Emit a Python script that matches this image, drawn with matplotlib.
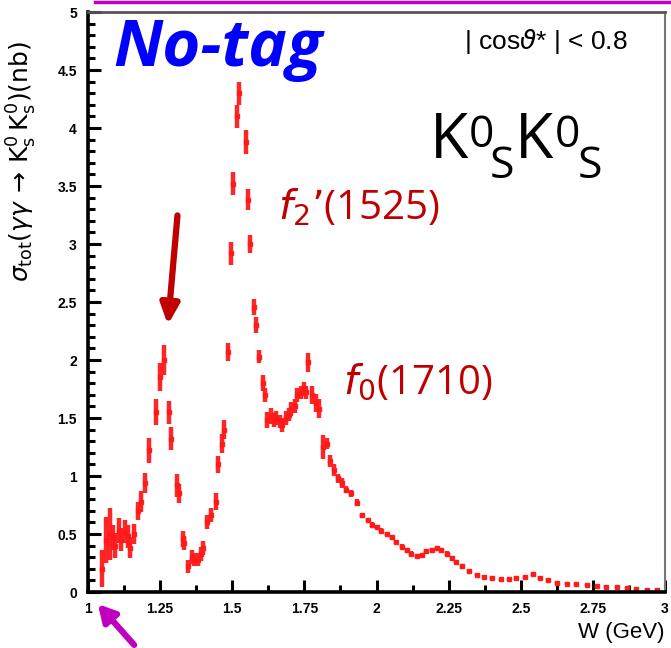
import matplotlib
matplotlib.use('Agg')
import matplotlib.pyplot as plt
from matplotlib.lines import Line2D
from matplotlib.ticker import MultipleLocator

# measured cross section, gamma gamma -> KsKs (nb), no-tag
w_gev = [1.050, 1.061, 1.075, 1.085, 1.095, 1.106, 1.116, 1.127, 1.137, 1.147,
         1.161, 1.172, 1.182, 1.199, 1.213, 1.234, 1.251, 1.262, 1.282, 1.289,
         1.307, 1.317, 1.328, 1.334, 1.348, 1.359, 1.369, 1.380, 1.390, 1.400,
         1.414, 1.425, 1.442, 1.452, 1.463, 1.473, 1.484, 1.494, 1.501, 1.515,
         1.525, 1.546, 1.553, 1.563, 1.574, 1.584, 1.591, 1.605, 1.615, 1.622,
         1.633, 1.643, 1.653, 1.664, 1.674, 1.685, 1.695, 1.705, 1.716, 1.726,
         1.737, 1.747, 1.757, 1.764, 1.778, 1.789, 1.802, 1.816, 1.827, 1.840,
         1.854, 1.868, 1.882, 1.896, 1.910, 1.931, 1.951, 1.969, 1.983, 2.000,
         2.017, 2.035, 2.052, 2.069, 2.087, 2.104, 2.121, 2.139, 2.156, 2.173,
         2.191, 2.208, 2.225, 2.243, 2.260, 2.277, 2.298, 2.322, 2.347, 2.374,
         2.402, 2.430, 2.458, 2.485, 2.513, 2.541, 2.568, 2.596, 2.624, 2.659,
         2.693, 2.728, 2.763, 2.797, 2.832, 2.867, 2.901, 2.936, 2.971]
sigma = [0.20, 0.45, 0.50, 0.47, 0.40, 0.53, 0.45, 0.52, 0.48, 0.38,
         0.50, 0.70, 0.78, 0.94, 1.22, 1.55, 1.85, 2.00, 1.55, 1.32,
         0.92, 0.85, 0.46, 0.42, 0.22, 0.30, 0.28, 0.28, 0.33, 0.38,
         0.60, 0.66, 0.78, 1.10, 1.28, 1.40, 2.07, 2.92, 3.52, 4.10,
         4.30, 3.88, 3.38, 3.00, 2.46, 2.30, 2.03, 1.80, 1.70, 1.48,
         1.52, 1.48, 1.50, 1.47, 1.44, 1.50, 1.53, 1.58, 1.60, 1.70,
         1.72, 1.75, 1.72, 1.98, 1.70, 1.63, 1.58, 1.25, 1.28, 1.13,
         1.05, 0.98, 0.94, 0.88, 0.85, 0.77, 0.66, 0.62, 0.58, 0.56,
         0.53, 0.50, 0.47, 0.43, 0.39, 0.36, 0.33, 0.31, 0.32, 0.35,
         0.36, 0.38, 0.36, 0.33, 0.29, 0.26, 0.22, 0.18, 0.15, 0.13,
         0.12, 0.11, 0.11, 0.12, 0.13, 0.155, 0.12, 0.10, 0.08, 0.07,
         0.065, 0.06, 0.05, 0.045, 0.04, 0.035, 0.025, 0.02, 0.02]
sigma_err = [0.16, 0.20, 0.22, 0.11, 0.11, 0.11, 0.10, 0.10, 0.10, 0.09,
             0.09, 0.08, 0.09, 0.09, 0.11, 0.11, 0.12, 0.13, 0.10, 0.10,
             0.10, 0.08, 0.07, 0.06, 0.06, 0.06, 0.06, 0.06, 0.06, 0.06,
             0.06, 0.06, 0.07, 0.07, 0.08, 0.08, 0.08, 0.10, 0.10, 0.10,
             0.10, 0.10, 0.09, 0.08, 0.07, 0.07, 0.06, 0.07, 0.06, 0.07,
             0.07, 0.06, 0.06, 0.06, 0.06, 0.06, 0.06, 0.06, 0.06, 0.06,
             0.06, 0.06, 0.06, 0.08, 0.08, 0.08, 0.08, 0.10, 0.05, 0.05,
             0.05, 0.04, 0.04, 0.03, 0.03, 0.03, 0.02, 0.02, 0.02, 0.02,
             0.02, 0.02, 0.02, 0.02, 0.02, 0.02, 0.02, 0.02, 0.02, 0.02,
             0.02, 0.02, 0.02, 0.02, 0.02, 0.02, 0.02, 0.015, 0.015, 0.015,
             0.015, 0.015, 0.015, 0.015, 0.015, 0.015, 0.015, 0.015, 0.012, 0.012,
             0.012, 0.012, 0.012, 0.012, 0.012, 0.012, 0.012, 0.012, 0.012]

xticks = [1, 1.25, 1.5, 1.75, 2, 2.25, 2.5, 2.75, 3]
xtick_labels = ['1', '1.25', '1.5', '1.75', '2', '2.25', '2.5', '2.75', '3']
yticks = [0, 0.5, 1, 1.5, 2, 2.5, 3, 3.5, 4, 4.5, 5]
ytick_labels = ['0', '0.5', '1', '1.5', '2', '2.5', '3', '3.5', '4', '4.5', '5']

W, H = 671, 648
fig = plt.figure(figsize=(W / 100, H / 100), dpi=100)
ax = fig.add_axes([88 / W, 56 / H, (665 - 88) / W, (592 - 12) / H])


def px(x, y):
    # figure fraction from pixel position measured from top-left
    return x / W, 1 - y / H


ax.errorbar(w_gev, sigma, yerr=sigma_err, fmt='s', color='#ff1a1a',
            markersize=3.5, elinewidth=3.2, capsize=0, alpha=0.95)

ax.set_xlim(1, 3)
ax.set_ylim(0, 5)
ax.set_xticks(xticks)
ax.set_xticklabels(xtick_labels)
ax.set_yticks(yticks)
ax.set_yticklabels(ytick_labels)
ax.xaxis.set_minor_locator(MultipleLocator(0.125))
ax.yaxis.set_minor_locator(MultipleLocator(0.1))
ax.tick_params(which='both', direction='in', width=2.2, top=False, right=False,
               labelsize=10)
ax.tick_params(which='major', length=9)
ax.tick_params(which='minor', length=5)
ax.tick_params(axis='y', pad=8)
ax.tick_params(axis='x', pad=7)
for lab in ax.get_xticklabels() + ax.get_yticklabels():
    lab.set_fontweight('bold')
    lab.set_family('Liberation Sans')

ax.spines['left'].set_linewidth(2.6)
ax.spines['bottom'].set_linewidth(2.6)
ax.spines['top'].set_linewidth(2.0)
ax.spines['top'].set_color('#555555')
ax.spines['right'].set_linewidth(1.5)
ax.spines['right'].set_color('#777777')

ax.set_ylabel(r'$\sigma_{\rm tot}(\gamma\gamma\,\rightarrow\,\mathrm{K^0_s\,K^0_s})$(nb)',
              fontsize=18)
ax.yaxis.set_label_coords(-0.085, 0.742)
ax.set_xlabel('W (GeV)', fontsize=16, family='Liberation Sans')
ax.xaxis.set_label_coords(1.0, -0.052)
ax.xaxis.label.set_horizontalalignment('right')

# annotations
fig.text(*px(113, 66), 'No-tag', color='#0000ff', fontsize=47,
         fontweight='bold', fontstyle='italic', va='baseline',
         family='Open Sans')
fig.text(*px(628, 49), r'| cos$\vartheta$* | < 0.8', fontsize=19,
         ha='right', va='baseline', family='Liberation Sans')

# K0S K0S label, built from pieces
big, small = 45, 32
fig.text(*px(430, 158), 'K', fontsize=big, va='baseline', family='Open Sans')
fig.text(*px(469, 147), '0', fontsize=small, va='baseline', family='Open Sans')
fig.text(*px(490, 178), 'S', fontsize=small, va='baseline', family='Open Sans')
fig.text(*px(515, 158), 'K', fontsize=big, va='baseline', family='Open Sans')
fig.text(*px(555, 147), '0', fontsize=small, va='baseline', family='Open Sans')
fig.text(*px(578, 178), 'S', fontsize=small, va='baseline', family='Open Sans')

fig.text(*px(278, 219), r"$f_2$’(1525)", color='#c00000', fontsize=29,
         va='baseline', family='Open Sans')
fig.text(*px(343, 393), r'$f_0$(1710)', color='#c00000', fontsize=29,
         va='baseline', family='Open Sans')

ax.annotate('', xy=(1.276, 2.28), xytext=(1.311, 3.27),
            arrowprops=dict(arrowstyle='-|>,head_width=0.55,head_length=1.2',
                            color='#c00000', lw=4.5))
ax.annotate('', xy=(96, 46), xycoords='figure pixels', xytext=(136, 1),
            textcoords='figure pixels', annotation_clip=False,
            arrowprops=dict(arrowstyle='-|>,head_width=0.55,head_length=1.0',
                            color='#c000c0', lw=4.5))
fig.add_artist(Line2D([95 / W, 1.0], [1 - 1.5 / H, 1 - 1.5 / H],
                      color='#c000c0', lw=2.5, transform=fig.transFigure))

fig.savefig('out.png', dpi=100)
